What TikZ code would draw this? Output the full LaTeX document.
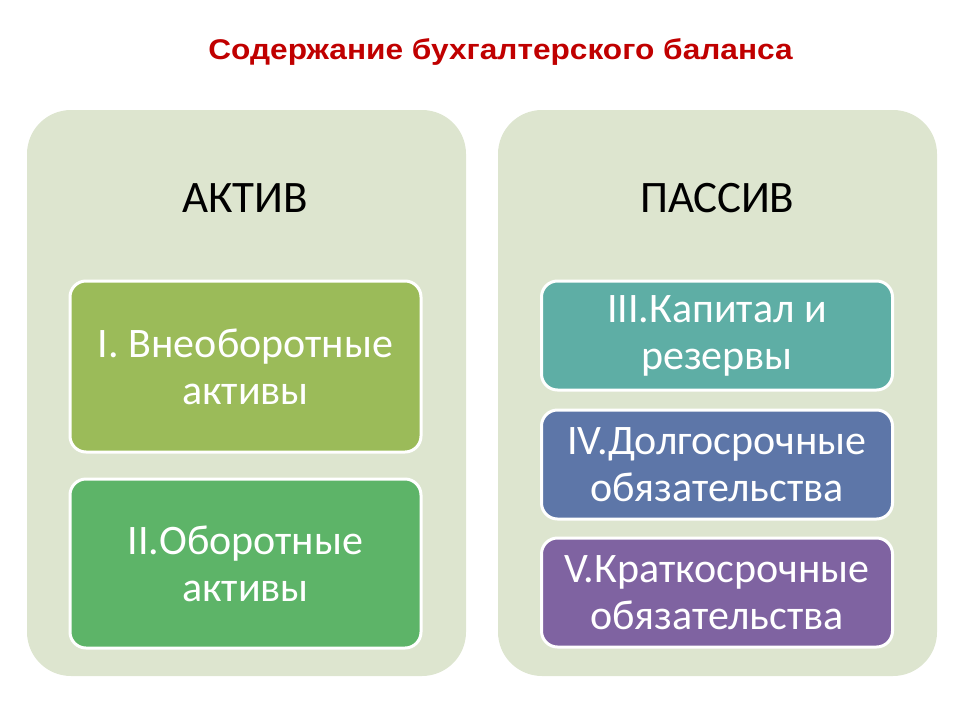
\documentclass[tikz,border=0pt]{standalone}
\usepackage{fontspec}
\setmainfont{Carlito}
\newfontfamily\titlefont{Liberation Sans}
\usetikzlibrary{positioning}
\definecolor{panelgreen}{RGB}{221,229,207}
\definecolor{titlered}{RGB}{192,0,0}
\definecolor{olive}{RGB}{155,187,89}
\definecolor{leaf}{RGB}{93,180,104}
\definecolor{teal}{RGB}{94,174,165}
\definecolor{steel}{RGB}{93,118,168}
\definecolor{plum}{RGB}{127,99,161}
\tikzset{
  panel/.style={fill=panelgreen, draw=none, rounded corners=44pt,
    minimum width=439pt, minimum height=566pt},
  head/.style={font=\fontsize{45}{50}\selectfont, anchor=base},
  part/.style={draw=white, line width=3pt, rounded corners=16pt,
    text=white, align=center, inner sep=0pt,
    font=\fontsize{42}{47}\selectfont, minimum width=351pt},
}

\begin{document}
\begin{tikzpicture}[x=1pt,y=-1pt]
  \useasboundingbox (0,0) rectangle (960,720);

  \node[font=\titlefont\bfseries\fontsize{28.5}{32}\selectfont, text=titlered,
    anchor=base] (title) at (500.5,59)
    {\scalebox{1.11}[1]{Содержание бухгалтерского баланса}};

  % two columns
  \node[panel] (actpanel) at (246.5,393) {};
  \node[panel] (paspanel) at (717.5,393) {};
  \node[head] (act) at (245.5,212) {АКТИВ};
  \node[head] (pas) at (717.5,212) {ПАССИВ};

  % asset sections
  \node[part, fill=olive, minimum height=171pt] (sec1) at (245.5,366.5)
    {I. Внеоборотные\\активы};
  \node[part, fill=leaf, minimum height=169pt] (sec2) at (245.5,563.5)
    {II.Оборотные\\активы};

  % liability sections
  \node[part, fill=teal, minimum height=109pt] (sec3) at (717,335.5)
    {III.Капитал и\\резервы};
  \node[part, fill=steel, minimum height=109pt] (sec4) at (717,464.5)
    {IV.Долгосрочные\\обязательства};
  \node[part, fill=plum, minimum height=109pt] (sec5) at (717,592.5)
    {V.Краткосрочные\\обязательства};
\end{tikzpicture}
\end{document}
